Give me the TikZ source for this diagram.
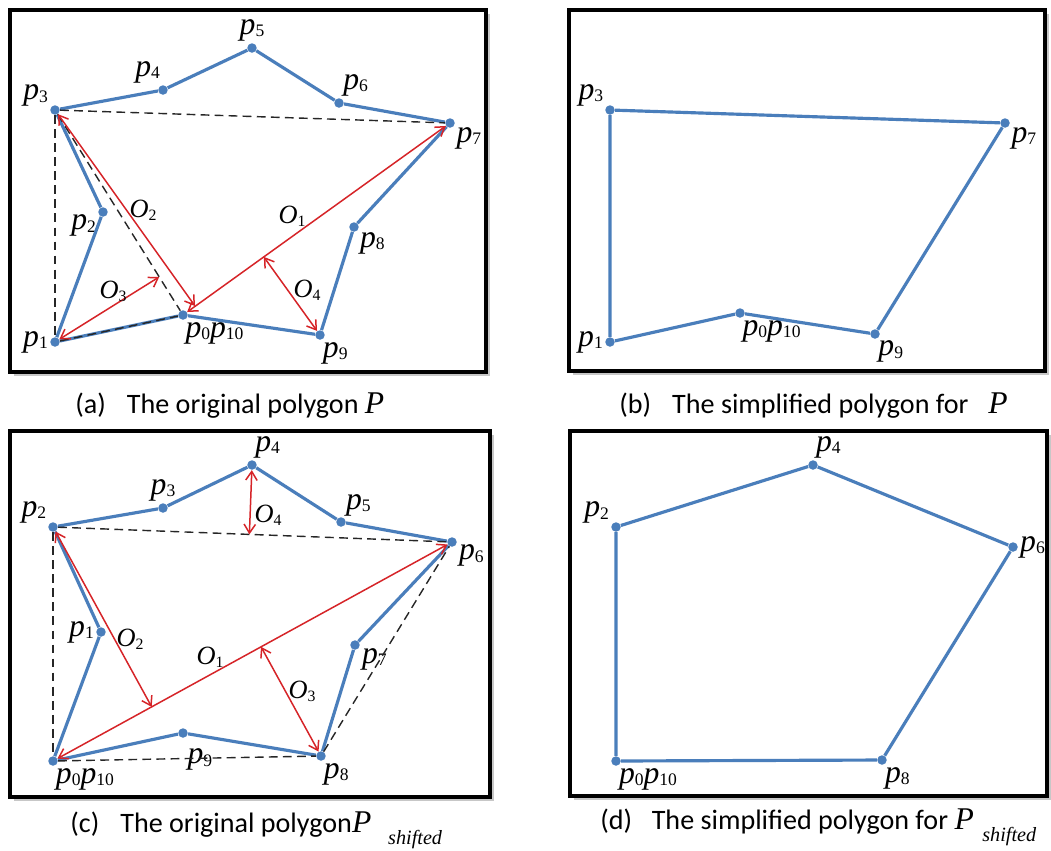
\documentclass[tikz,border=0pt]{standalone}
\usepackage{fontspec}
\setmainfont{Liberation Serif}
\newfontfamily\capfont{Carlito}
\usetikzlibrary{arrows.meta,calc}

\definecolor{polyblue}{RGB}{74,126,187}
\definecolor{distred}{RGB}{214,36,40}

% vertex and distance labels
\newcommand{\pv}[1]{\textit{p}{\fontsize{10}{10}\selectfont\raisebox{-0.3ex}{#1}}}
\newcommand{\ov}[1]{\textit{O}{\fontsize{9}{9}\selectfont\raisebox{-0.4ex}{#1}}}
\newcommand{\bigP}{{\rmfamily\fontsize{18}{18}\selectfont\itshape P}}
\newcommand{\shifted}{\raisebox{-0.9ex}{\rmfamily\fontsize{11.5}{11.5}\selectfont\itshape shifted}}

\newcommand{\panelbox}[2]% top-left, bottom-right
    {\fill[black!22] ($(#1)+(4,4)$) rectangle ($(#2)+(4,4)$);
     \draw[frame] (#1) rectangle (#2);
}

\begin{document}
\begin{tikzpicture}[x=0.02cm, y=-0.02cm,
    dot/.style={circle, fill=polyblue, inner sep=0pt, minimum size=5.4pt},
    lbl/.style={font=\fontsize{18}{18}\selectfont, inner sep=1pt},
    olbl/.style={font=\fontsize{15}{15}\selectfont, inner sep=0pt},
    captxt/.style={font=\capfont\fontsize{16}{16}\selectfont, inner sep=0pt, anchor=base west},
    poly/.style={polyblue, line width=1.8pt},
    hull/.style={black!85, line width=0.8pt, dash pattern=on 5pt off 3pt},
    dist/.style={distred, line width=0.85pt, >={Straight Barb[length=5pt,width=6.5pt]}, <->},
    frame/.style={draw=black, fill=white, line width=2.6pt}
]
    \useasboundingbox (0,0) rectangle (1051,850);

    % Frames of the four panels
    \panelbox{10,10}{486,372}
    \panelbox{569,10}{1045,371}
    \panelbox{10,431}{490,797}
    \panelbox{570,431}{1047,796}

    % (a) original polygon P
    \node[dot, label={[lbl]-85:\pv{0}\pv{10}}] (a0) at (183,315) {};
    \node[dot, label={[lbl]left:\pv{1}}]       (a1) at (55,342)  {};
    \node[dot, label={[lbl]190:\pv{2}}]        (a2) at (103,212) {};
    \node[dot, label={[lbl]165:\pv{3}}]        (a3) at (55,110)  {};
    \node[dot, label={[lbl]100:\pv{4}}]        (a4) at (163,90)  {};
    \node[dot, label={[lbl]above:\pv{5}}]      (a5) at (252,48)  {};
    \node[dot, label={[lbl]65:\pv{6}}]         (a6) at (339,103) {};
    \node[dot, label={[lbl]-30:\pv{7}}]        (a7) at (450,123) {};
    \node[dot, label={[lbl]-40:\pv{8}}]        (a8) at (354,227) {};
    \node[dot, label={[lbl]-80:\pv{9}}]        (a9) at (320,335) {};

    \draw[poly] (a0) -- (a1) -- (a2) -- (a3) -- (a4) -- (a5) -- (a6)
        -- (a7) -- (a8) -- (a9) -- (a0);
    \draw[hull] (a3) -- (a7);
    \draw[hull] (a3) -- (a1);
    \draw[hull] (a3) -- (a0);
    \draw[hull] (a1) -- (a0);

    \coordinate (a2e) at (195,306);
    \coordinate (a3f) at ($(a3)!(a1)!(a0)$);
    \coordinate (a4f) at ($(a0)!(a9)!(a7)$);
    \draw[dist] (a0) -- (a7);
    \draw[dist] (a3) -- (a2e);
    \draw[dist] (a1) -- (a3f);
    \draw[dist] (a9) -- (a4f);
    \node[olbl] (oa1) at (292,216) {\ov{1}};
    \node[olbl] (oa2) at (143,210) {\ov{2}};
    \node[olbl] (oa3) at (113,291) {\ov{3}};
    \node[olbl] (oa4) at (307,290) {\ov{4}};

    \node[captxt] (capa) at (75,413)
        {(a)\hspace{0.75em}The original polygon \bigP};

    % (b) simplified polygon for P
    \node[dot, label={[lbl]-85:\pv{0}\pv{10}}] (b0) at (740,313)  {};
    \node[dot, label={[lbl]left:\pv{1}}]       (b1) at (610,342)  {};
    \node[dot, label={[lbl]160:\pv{3}}]        (b3) at (610,110)  {};
    \node[dot, label={[lbl]-30:\pv{7}}]        (b7) at (1005,123) {};
    \node[dot, label={[lbl]-75:\pv{9}}]        (b9) at (875,334)  {};

    \draw[poly] (b0) -- (b1) -- (b3) -- (b7) -- (b9) -- (b0);

    \node[captxt] (capb) at (619,413)
        {(b)\hspace{0.75em}The simplified polygon for\hspace{0.7em}\bigP};

    % (c) original polygon P_shifted
    \node[dot, label={[lbl]-80:\pv{0}\pv{10}}] (c0) at (53,761)  {};
    \node[dot, label={[lbl]left:\pv{1}}]       (c1) at (101,632) {};
    \node[dot, label={[lbl]160:\pv{2}}]        (c2) at (53,527)  {};
    \node[dot, label={[lbl]above:\pv{3}}]      (c3) at (163,508) {};
    \node[dot, label={[lbl]75:\pv{4}}]         (c4) at (252,465) {};
    \node[dot, label={[lbl]55:\pv{5}}]         (c5) at (341,522) {};
    \node[dot, label={[lbl]-10:\pv{6}}]        (c6) at (452,542) {};
    \node[dot, label={[lbl]-15:\pv{7}}]        (c7) at (355,645) {};
    \node[dot, label={[lbl]-80:\pv{8}}]        (c8) at (321,756) {};
    \node[dot, label={[lbl, label distance=5pt]-80:\pv{9}}] (c9) at (183,733) {};

    \draw[poly] (c0) -- (c1) -- (c2) -- (c3) -- (c4) -- (c5) -- (c6)
        -- (c7) -- (c8) -- (c9) -- (c0);
    \draw[hull] (c2) -- (c6);
    \draw[hull] (c2) -- (c0);
    \draw[hull] (c0) -- (c8);
    \draw[hull] (c8) -- (c6);

    \coordinate (c2f) at ($(c0)!(c2)!(c6)$);
    \coordinate (c3f) at ($(c0)!(c8)!(c6)$);
    \coordinate (c4f) at ($(c2)!(c4)!(c6)$);
    \draw[dist] (c0) -- (c6);
    \draw[dist] (c2) -- (c2f);
    \draw[dist] (c8) -- (c3f);
    \draw[dist] (c4) -- (c4f);
    \node[olbl] (oc1) at (210,657) {\ov{1}};
    \node[olbl] (oc2) at (130,639) {\ov{2}};
    \node[olbl] (oc3) at (302,691) {\ov{3}};
    \node[olbl] (oc4) at (268,515) {\ov{4}};

    \node[captxt] (capc) at (70,832)
        {(c)\hspace{0.75em}The original polygon\bigP\hspace{0.6em}\shifted};

    % (d) simplified polygon for P_shifted
    \node[dot, label={[lbl]-80:\pv{0}\pv{10}}] (d0) at (616,761)  {};
    \node[dot, label={[lbl]165:\pv{2}}]        (d2) at (616,527)  {};
    \node[dot, label={[lbl]80:\pv{4}}]         (d4) at (813,465)  {};
    \node[dot, label={[lbl]right:\pv{6}}]      (d6) at (1013,547) {};
    \node[dot, label={[lbl]-80:\pv{8}}]        (d8) at (882,760)  {};

    \draw[poly] (d0) -- (d2) -- (d4) -- (d6) -- (d8) -- (d0);

    \node[captxt] (capd) at (600,829)
        {(d)\hspace{0.7em}The simplified polygon for \bigP\hspace{0.3em}\shifted};

\end{tikzpicture}
\end{document}
